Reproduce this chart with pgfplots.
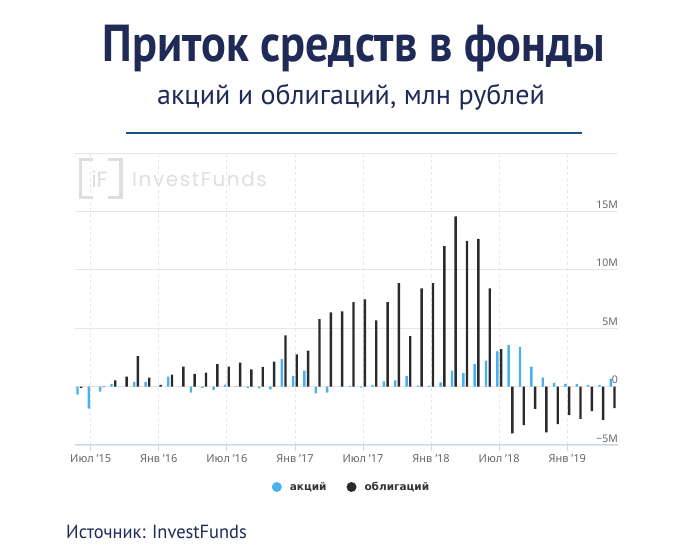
\documentclass[border=0pt]{standalone}
\usepackage{fontspec}
\usepackage{pgfplots}
\pgfplotsset{compat=1.18}
\setmainfont{Noto Sans}
\newfontfamily\ptnarrow[FakeStretch=0.89]{PT Sans}
\newfontfamily\ptsub{PT Sans}
\newfontfamily\ptsrc[FakeStretch=0.97]{PT Sans}
\newfontfamily\wmfont[LetterSpace=8]{Poppins}
\newfontfamily\wmlogo{Poppins}
\newfontfamily\legfont{DejaVu Sans}
\definecolor{navy}{HTML}{1F2A56}
\definecolor{linec}{HTML}{1E4F8A}
\definecolor{cblue}{HTML}{4AB0EE}
\definecolor{cdark}{HTML}{2A2A2E}
\definecolor{gridc}{HTML}{E6E6E6}
\definecolor{axisc}{HTML}{CCD6EB}
\definecolor{labc}{HTML}{666666}
\definecolor{legc}{HTML}{333333}
\definecolor{wm}{HTML}{DEDEDE}

\pgfplotstableread{
m a o
0 -0.68 -0.10
1 -1.88 0.00
2 -0.43 -0.05
3 0.23 0.54
4 0.00 0.85
5 0.40 2.60
6 0.40 0.77
7 0.00 0.14
8 0.85 1.02
9 0.00 1.70
10 -0.51 1.08
11 -0.10 1.19
12 -0.28 1.93
13 0.17 1.70
14 0.05 2.05
15 -0.10 1.48
16 -0.16 1.68
17 -0.23 2.14
18 2.36 4.38
19 0.91 2.76
20 1.36 3.07
21 -0.57 5.77
22 -0.51 6.36
23 0.00 6.45
24 0.06 7.24
25 -0.09 7.47
26 0.14 5.68
27 0.45 7.24
28 0.54 8.86
29 0.91 4.32
30 0.09 8.41
31 0.09 8.86
32 0.37 12.02
33 1.36 14.57
34 1.16 12.47
35 1.93 12.64
36 2.22 8.41
37 3.01 3.21
38 3.55 -4.00
39 3.41 -3.30
40 1.70 -1.90
41 0.77 -3.92
42 0.31 -3.21
43 0.23 -2.44
44 0.23 -2.76
45 0.14 -2.10
46 0.14 -2.84
47 0.68 -1.85
}\flows

\begin{document}
\begin{tikzpicture}[x=1pt,y=1pt]
\path (0,0) rectangle (700,556);
% titles
\node[anchor=base, text=navy, inner sep=0pt, font=\ptnarrow\bfseries\fontsize{52}{58}\selectfont] at (354,494) {Приток средств в фонды};
\node[anchor=base, text=navy, inner sep=0pt, font=\ptsub\fontsize{28}{32}\selectfont] at (351,451) {акций и облигаций, млн рублей};
\draw[linec, line width=2pt] (126,423) -- (582,423);
% watermark
\draw[wm, line width=3.5pt] (93,396.5) -- (80.5,396.5) -- (80.5,358.5) -- (93,358.5);
\draw[wm, line width=3.5pt] (108,396.5) -- (121,396.5) -- (121,358.5) -- (108,358.5);
\node[text=wm, inner sep=0pt, font=\wmlogo\fontsize{22}{24}\selectfont] at (99.5,377) {iF};
\node[anchor=base west, text=wm, inner sep=0pt, font=\wmfont\fontsize{20}{22}\selectfont] at (132,369) {InvestFunds};
% source
\node[anchor=base west, text=navy, inner sep=0pt, font=\ptsrc\fontsize{19}{22}\selectfont] at (66,18) {Источник: InvestFunds};

\begin{axis}[
  at={(75pt,111pt)}, anchor=south west,
  scale only axis, width=543pt, height=292pt,
  xmin=-0.383, xmax=47.47, ymin=-5, ymax=20,
  axis x line*=bottom, axis y line*=right,
  x axis line style={draw=axisc, line width=1pt, -},
  y axis line style={draw=none},
  xtick={1,7,13,19,25,31,37,43},
  xticklabels={Июл '15,Янв '16,Июл '16,Янв '17,Июл '17,Янв '18,Июл '18,Янв '19},
  xtick style={draw=axisc, line width=0.8pt},
  xtick align=outside, major tick length=6pt,
  ytick={-5,0,5,10,15,20},
  yticklabels={−5M,0,5M,10M,15M,{}},
  ytick style={draw=none},
  xmajorgrids, ymajorgrids,
  major x grid style={gridc, dashed, line width=0.8pt},
  major y grid style={gridc, line width=0.8pt},
  xticklabel style={font=\fontsize{11}{13}\selectfont, text=labc},
  yticklabel style={font=\fontsize{10.5}{12}\selectfont, text=labc, anchor=south east, inner sep=0pt, xshift=0pt, yshift=2.5pt},
  legend style={at={(axis description cs:0.5,0)}, anchor=center, xshift=5pt, yshift=-42pt, draw=none, fill=none,
    font=\legfont\bfseries\fontsize{10.5}{12}\selectfont, text=legc, legend columns=2,
    /tikz/every even column/.append style={column sep=18pt}},
  clip=false,
]
\addplot[ybar, bar width=2.4pt, bar shift=-1.85pt, fill=cblue, draw=none,
  legend image code/.code={\fill[cblue] (-11pt,0pt) circle (5pt); \path (0pt,0pt);}] table[x=m, y=a] {\flows};
\addlegendentry{акций}
\addplot[ybar, bar width=2.4pt, bar shift=1.85pt, fill=cdark, draw=none,
  legend image code/.code={\fill[cdark] (-11pt,0pt) circle (5pt); \path (0pt,0pt);}] table[x=m, y=o] {\flows};
\addlegendentry{облигаций}
\end{axis}
\end{tikzpicture}
\end{document}
